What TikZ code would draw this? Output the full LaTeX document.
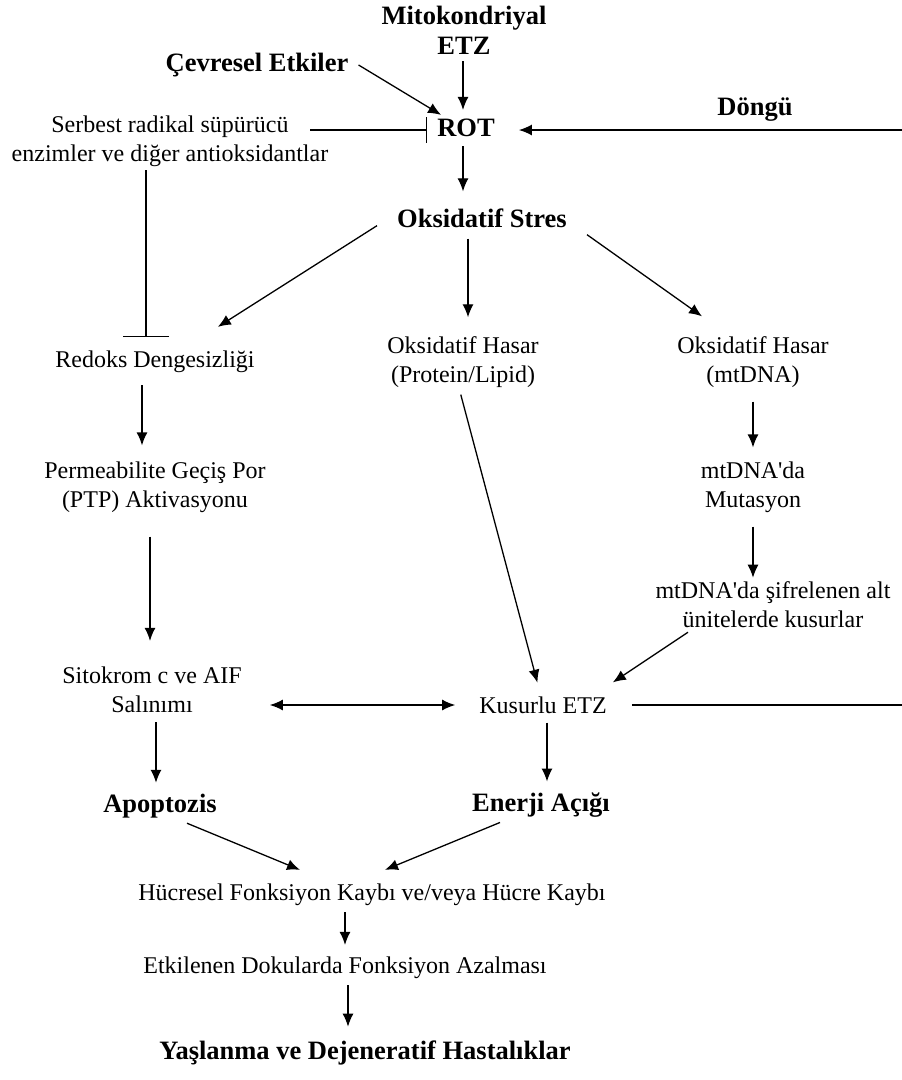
\documentclass[tikz,border=0pt]{standalone}
\usepackage{fontspec}
\setmainfont{Liberation Serif}
\usetikzlibrary{arrows.meta}
\tikzset{
  txt/.style={align=center,inner sep=4pt,font=\fontsize{24}{29}\selectfont},
  hl/.style={txt,font=\fontsize{26.5}{30}\selectfont\bfseries},
  arr/.style={-{Latex[length=13pt,width=11pt]},line width=1.3pt},
  darr/.style={{Latex[length=13pt,width=11pt]}-{Latex[length=13pt,width=11pt]},line width=1.3pt},
  inh/.style={-{Bar[width=#1]},line width=1.3pt},
  plain/.style={line width=1.3pt}
}
\begin{document}
\begin{tikzpicture}[x=1pt,y=-1pt]
  \useasboundingbox (0,0) rectangle (902,1080);
  % ust kisim
  \node[hl] (mito) at (464,30) {Mitokondriyal\\ETZ};
  \node[hl] (cevre) at (257,65) {Çevresel Etkiler};
  \node[hl] (rot) at (466,128) {ROT};
  \node[txt] (anti) at (170,141) {Serbest radikal süpürücü\\enzimler ve diğer antioksidantlar};
  \node[hl] (dongu) at (755,110) {Döngü};
  \coordinate (antiR) at (310,130);
  \coordinate (antiB) at (146,170);
  \coordinate (donguR) at (902,130);
  \node[hl] (ostres) at (482,218) {Oksidatif Stres};

  % orta kisim
  \node[txt] (redoks) at (155,362) {Redoks Dengesizliği};
  \node[txt] (hasarpl) at (463,362) {Oksidatif Hasar\\(Protein/Lipid)};
  \node[txt] (hasarmt) at (753,362) {Oksidatif Hasar\\(mtDNA)};
  \node[txt] (ptp) at (155,487) {Permeabilite Geçiş Por\\(PTP) Aktivasyonu};
  \node[txt] (mutas) at (753,487) {mtDNA{\textquotesingle}da\\Mutasyon};
  \node[txt] (kusur) at (773,605) {mtDNA{\textquotesingle}da şifrelenen alt\\ünitelerde kusurlar};
  \node[txt] (sito) at (152,690) {Sitokrom c ve AIF\\Salınımı};
  \node[txt] (ketz) at (543,705) {Kusurlu ETZ};
  \coordinate (ketzR) at (902,705);

  % alt kisim
  \node[hl] (apop) at (160,806) {Apoptozis};
  \node[hl] (enerji) at (541,805) {Enerji Açığı};
  \node[txt] (hucre) at (372,895) {Hücresel Fonksiyon Kaybı ve/veya Hücre Kaybı};
  \node[txt] (doku) at (345,968) {Etkilenen Dokularda Fonksiyon Azalması};
  \node[hl] (yasl) at (365,1053) {Yaşlanma ve Dejeneratif Hastalıklar};

  % oklar
  \draw[arr,shorten <=3pt,shorten >=5pt] ([xshift=-1pt]mito.south) -- ([xshift=-1pt]mito.south |- rot.north);
  \draw[arr] ([xshift=6pt]cevre.east) -- ([shift={(8,0)}]rot.north west);
  \draw[inh=26pt,shorten >=6pt] (antiR) -- (antiR -| rot.west);
  \draw[arr,shorten >=20pt] (donguR) -- (donguR -| rot.east);
  \draw[arr,shorten <=5pt,shorten >=13pt] ([xshift=-3pt]rot.south) -- ([xshift=-3pt]rot.south |- ostres.north);

  \draw[arr] ([shift={(-16,-6)}]ostres.south west) -- ([shift={(-41,-20)}]redoks.north east);
  \draw[arr,shorten <=7pt,shorten >=15pt] ([xshift=-14pt]ostres.south) -- ([xshift=-14pt]ostres.south |- hasarpl.north);
  \draw[arr] ([shift={(16,3)}]ostres.south east) -- ([shift={(-51,-16)}]hasarmt.north);
  \draw[inh=46pt,shorten >=10pt] (antiB) -- (antiB |- redoks.north);

  \draw[arr,shorten <=8pt,shorten >=12pt] ([xshift=-13pt]redoks.south) -- ([xshift=-13pt]redoks.south |- ptp.north);
  \draw[arr,shorten <=20pt,shorten >=22pt] ([xshift=-5pt]ptp.south) -- ([xshift=-5pt]ptp.south |- sito.north);
  \draw[arr,shorten <=5pt,shorten >=7pt] ([xshift=4pt]sito.south) -- ([xshift=4pt]sito.south |- apop.north);
  \draw[arr,shorten <=10pt,shorten >=10pt] (hasarmt) -- (mutas);
  \draw[arr,shorten <=10pt] (mutas) -- (mutas |- kusur.north);
  \draw[arr] ([xshift=-85pt]kusur.south) -- ([shift={(2,-10)}]ketz.north east);
  \draw[arr,shorten <=3pt,shorten >=10pt] ([xshift=-3pt]hasarpl.south) -- ([xshift=-3pt]ketz.north);
  \draw[darr,shorten <=24pt,shorten >=20pt] (sito.east |- ketz) -- (ketz.west);
  \draw[plain,shorten <=21pt] (ketz.east) -- (ketzR);
  \draw[arr,shorten <=5pt,shorten >=7pt] ([xshift=4pt]ketz.south) -- ([xshift=4pt]ketz.south |- enerji.north);

  \draw[arr] ([shift={(27,1)}]apop.south) -- ([shift={(-72,-10)}]hucre.north);
  \draw[arr] ([shift={(-41,1)}]enerji.south) -- ([shift={(13,-10)}]hucre.north);
  \draw[arr,shorten <=2pt,shorten >=8pt] (hucre.south -| doku) -- (doku.north);
  \draw[arr,shorten <=2pt,shorten >=10pt] ([xshift=3pt]doku.south) -- ([xshift=3pt]doku.south |- yasl.north);
\end{tikzpicture}
\end{document}
